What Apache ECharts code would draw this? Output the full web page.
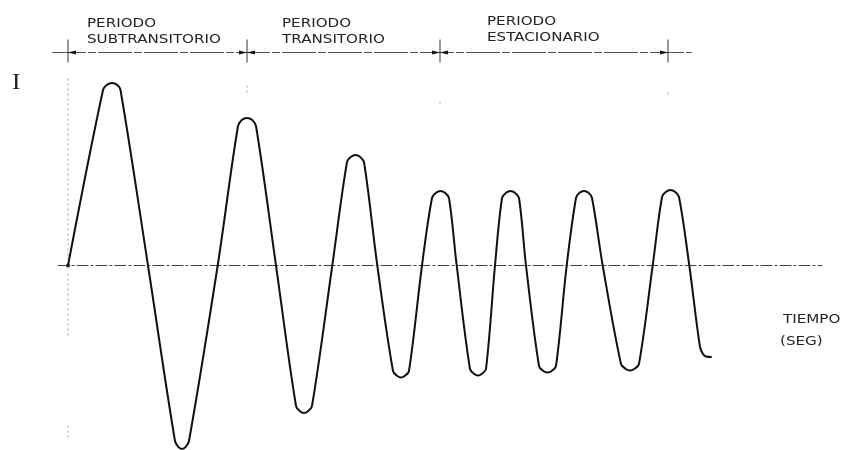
<!DOCTYPE html>
<html>
<head>
<meta charset="utf-8">
<title>Corriente de cortocircuito</title>
<script src="https://cdn.jsdelivr.net/npm/echarts@6/dist/echarts.min.js"></script>
<style>
  html, body { margin: 0; padding: 0; background: #fff; }
  #chart { width: 849px; height: 450px; }
</style>
</head>
<body>
<div id="chart"></div>
<script>
// Short-circuit current trace: time (arbitrary units) vs. current (arbitrary units).
// Each crest/trough is listed with its two flanks and rounded cap.
const waveTime = [
  0,
  3.5, 3.9, 4.4, 4.9, 5.25, 8.0,
  10.7, 11.05, 11.4, 11.75, 12.1, 14.97,
  17.0, 17.4, 17.9, 18.4, 18.8, 20.8,
  22.8, 23.2, 23.6, 24.0, 24.4, 26.43,
  27.9, 28.3, 28.75, 29.2, 29.6, 30.93,
  32.5, 32.9, 33.3, 33.7, 34.1, 35.4,
  36.4, 36.8, 37.25, 37.7, 38.1, 38.87,
  40.2, 40.6, 41.0, 41.4, 41.8, 42.7,
  43.4, 43.8, 44.25, 44.7, 45.1, 45.8,
  47.1, 47.5, 47.95, 48.4, 48.8, 49.87,
  50.8, 51.15, 51.6, 52.05, 52.4, 53.47,
  55.3, 55.75, 56.2, 56.65, 57.1, 58.47,
  59.4, 59.8, 60.25, 60.7, 61.1, 62.13,
  63.2, 63.5, 63.8, 64.37
];
const waveCurrent = [
  0,
  17.55, 18.07, 18.25, 18.07, 17.55, 0,
  -17.55, -18.17, -18.35, -18.17, -17.55, 0,
  13.95, 14.57, 14.75, 14.57, 13.95, 0,
  -14.05, -14.57, -14.75, -14.57, -14.05, 0,
  10.35, 10.87, 11.05, 10.87, 10.35, 0,
  -10.55, -11.02, -11.2, -11.02, -10.55, 0,
  6.75, 7.27, 7.45, 7.27, 6.75, 0,
  -10.35, -10.82, -11.0, -10.82, -10.35, 0,
  6.75, 7.27, 7.45, 7.27, 6.75, 0,
  -10.05, -10.52, -10.7, -10.52, -10.05, 0,
  6.75, 7.27, 7.45, 7.27, 6.75, 0,
  -9.85, -10.32, -10.5, -10.32, -9.85, 0,
  6.85, 7.37, 7.55, 7.37, 6.85, 0,
  -8.15, -8.85, -9.1, -9.15
];

// Period boundaries (time units) and their names
const periodBounds = [0, 17.9, 37.2, 60.0];
const periodWord = 'PERIODO';
const periodNames = ['SUBTRANSITORIO', 'TRANSITORIO', 'ESTACIONARIO'];
const annotationLevel = 21.3;   // current level of the period bracket line
const timeTitle = ['TIEMPO', '(SEG)'];
const currentTitle = 'I';

const chart = echarts.init(document.getElementById('chart'), null, { renderer: 'canvas' });

const wave = waveTime.map((t, i) => [t, waveCurrent[i]]);

chart.setOption({
  animation: false,
  backgroundColor: '#ffffff',
  grid: { left: 58, right: 27, top: 25.5, bottom: 4.5 },
  xAxis: {
    type: 'value', min: -1, max: 75.4,
    axisLine: { show: true, onZero: true, lineStyle: { color: '#444', width: 1, type: [11, 3, 2, 3] } },
    axisTick: { show: false }, axisLabel: { show: false }, splitLine: { show: false }
  },
  yAxis: {
    type: 'value', min: -18, max: 24,
    axisLine: { show: false }, axisTick: { show: false },
    axisLabel: { show: false }, splitLine: { show: false }
  },
  series: [{
    type: 'line',
    data: wave,
    clip: false,
    smooth: 0.35,
    symbol: 'none',
    lineStyle: { color: '#111', width: 2 }
  }]
});

// Annotations drawn in pixel space from the axis scales
const px = (t, v) => chart.convertToPixel({ gridIndex: 0 }, [t, v]);
const boundsPx = periodBounds.map(t => px(t, annotationLevel)[0]);
const annoY = px(0, annotationLevel)[1];
const zeroY = px(0, 0)[1];

const ink = '#222';
const TEXT_FONT = '"DejaVu Sans", sans-serif';
const stretch = 1.26;
const labelOffsets = [19, 35, 47];
const labelLift = [0, 0, -2];

const g = [];

// bracket line
g.push({
  type: 'line', silent: true,
  shape: { x1: boundsPx[0] - 16, y1: annoY, x2: boundsPx[boundsPx.length - 1] + 24, y2: annoY },
  style: { stroke: '#555', lineWidth: 1, lineDash: [34, 2, 8, 2] }
});

// ticks and arrowheads at each boundary
boundsPx.forEach((bx, i) => {
  g.push({
    type: 'line', silent: true,
    shape: { x1: bx, y1: annoY - 13, x2: bx, y2: annoY + 10 },
    style: { stroke: '#333', lineWidth: 1 }
  });
  const L = 8, H = 2;
  if (i < boundsPx.length - 1) {
    g.push({ type: 'polygon', silent: true,
      shape: { points: [[bx, annoY], [bx + L, annoY - H], [bx + L, annoY + H]] },
      style: { fill: '#111' } });
  }
  if (i > 0) {
    g.push({ type: 'polygon', silent: true,
      shape: { points: [[bx, annoY], [bx - L, annoY - H], [bx - L, annoY + H]] },
      style: { fill: '#111' } });
  }
});

// faint dotted guide lines under the boundaries
const dotted = (x, y1, y2) => g.push({
  type: 'line', silent: true,
  shape: { x1: x, y1: y1, x2: x, y2: y2 },
  style: { stroke: '#999', lineWidth: 1, lineDash: [2, 3] }
});
dotted(boundsPx[0], annoY + 26, zeroY - 6);
dotted(boundsPx[0], zeroY + 8, zeroY + 70);
dotted(boundsPx[0], zeroY + 160, zeroY + 175);
dotted(boundsPx[1], annoY + 33, annoY + 42);
dotted(boundsPx[2], annoY + 49, annoY + 54);
dotted(boundsPx[3], annoY + 40, annoY + 45);

// starting point of the trace
const p0 = px(waveTime[0], waveCurrent[0]);
g.push({ type: 'circle', silent: true, shape: { cx: p0[0], cy: p0[1], r: 2 }, style: { fill: '#111' } });

// stretched lettering
const label = (text, x, y, size, font, scale) => g.push({
  type: 'text', silent: true,
  x: x, y: y, scaleX: scale, scaleY: 1,
  style: {
    text: text, x: 0, y: 0,
    font: size + 'px ' + font,
    fill: ink, textAlign: 'left', textVerticalAlign: 'middle'
  }
});

periodNames.forEach((name, i) => {
  const left = boundsPx[i] + labelOffsets[i];
  label(periodWord, left, annoY - 29 + labelLift[i], 12, TEXT_FONT, stretch);
  label(name, left, annoY - 12.5 + labelLift[i], 12, TEXT_FONT, stretch);
});

label(timeTitle[0], 783, zeroY + 54, 12, TEXT_FONT, stretch);
label(timeTitle[1], 780, zeroY + 76, 12, TEXT_FONT, stretch);

label(currentTitle, 12, 83, 23, '"Liberation Serif", serif', 1.1);

chart.setOption({ graphic: g });
</script>
</body>
</html>
